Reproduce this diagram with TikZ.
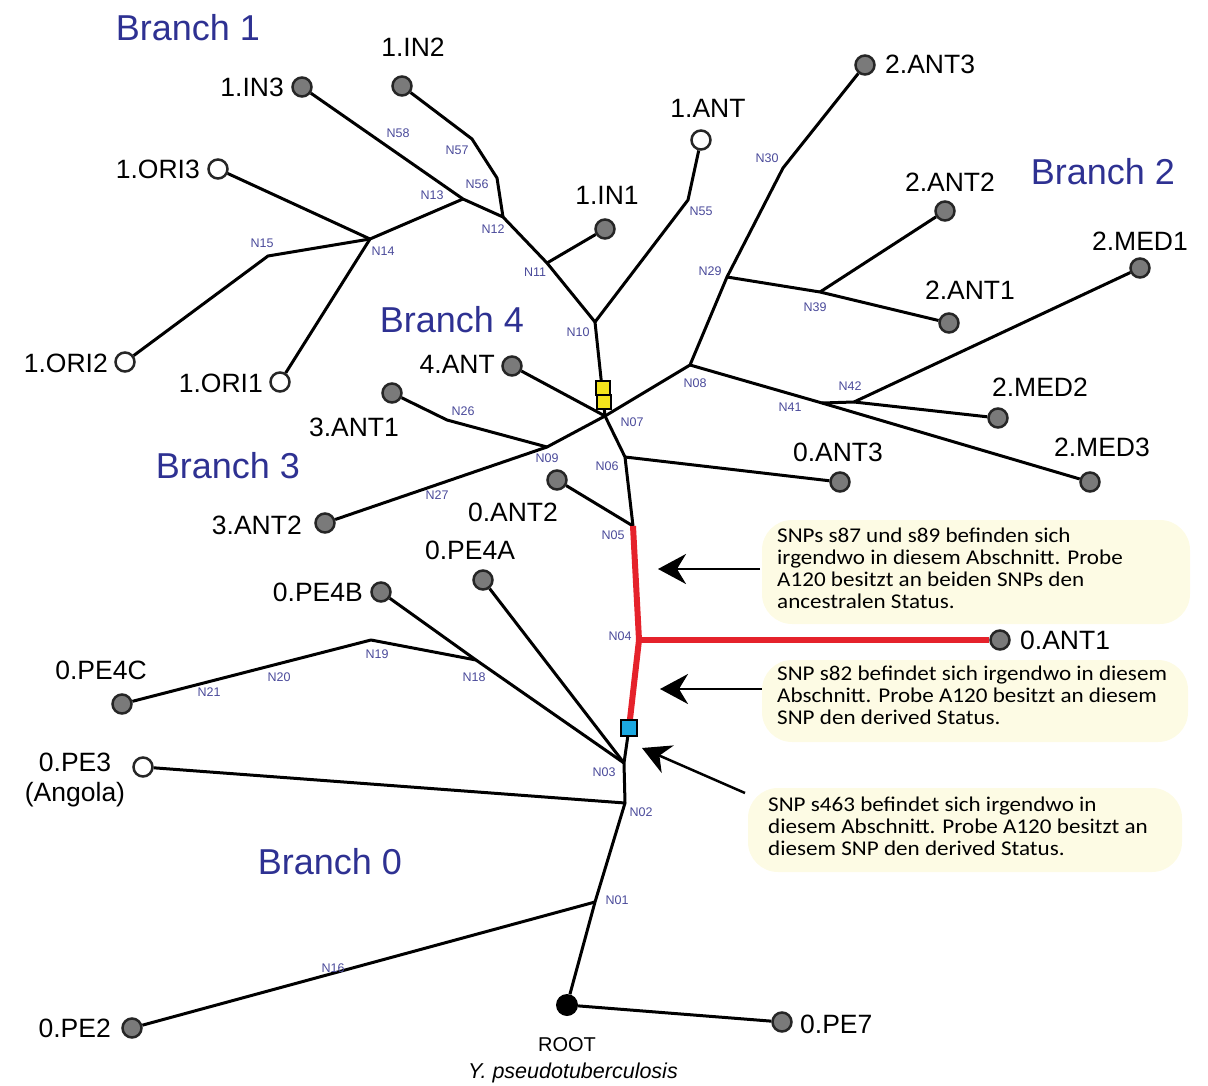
\documentclass[tikz,border=0pt]{standalone}
\usepackage{fontspec}
\setmainfont{Liberation Sans}
\newfontfamily\notefont[FakeStretch=1.1]{Carlito}
\usetikzlibrary{arrows.meta}
\definecolor{bblue}{HTML}{2E3192}
\definecolor{nblue}{HTML}{4A4A9A}
\definecolor{leafgray}{HTML}{7A7A7A}
\definecolor{snpred}{HTML}{E5222B}
\definecolor{notebg}{HTML}{FDFBE4}
\definecolor{ysq}{HTML}{F4E41C}
\definecolor{bsq}{HTML}{1CA9E1}
\tikzset{
  leaf/.style={circle, draw=black!85, line width=2.5pt, fill=leafgray, minimum size=19pt, inner sep=0pt},
  openleaf/.style={leaf, fill=white},
  lbl/.style={font=\fontsize{26.5}{30}\selectfont, inner sep=0pt},
  nl/.style={font=\fontsize{12.5}{14}\selectfont, text=nblue, inner sep=0pt},
  br/.style={font=\fontsize{36}{40}\selectfont, text=bblue, inner sep=0pt},
  edge/.style={line width=3pt, line join=round},
  redge/.style={line width=6pt, draw=snpred, line join=round},
  note/.style={font=\notefont\fontsize{21}{22}\selectfont, align=left, anchor=north west, inner sep=0pt},
  arr/.style={line width=2.5pt, -{Stealth[length=28pt, width=30pt, inset=9pt]}},
  sq/.style={rectangle, draw=black, line width=1.2pt, minimum size=14pt, inner sep=0pt}
}
\begin{document}
\begin{tikzpicture}[x=1pt,y=-1pt]
\useasboundingbox (0,0) rectangle (1208,1086);
% annotation backgrounds
\fill[notebg, rounded corners=30pt] (762,520) rectangle (1190,624);
\fill[notebg, rounded corners=30pt] (762,660) rectangle (1188,742);
\fill[notebg, rounded corners=30pt] (748,788) rectangle (1182,872);
% inner coordinates
\coordinate (N57) at (472,139);
\coordinate (N56) at (497,178);
\coordinate (N13) at (463,199);
\coordinate (N12) at (503,217);
\coordinate (N14) at (370,239);
\coordinate (N15) at (268,256);
\coordinate (N11) at (547,263);
\coordinate (N10) at (595,322);
\coordinate (N55) at (688,200);
\coordinate (N07) at (605,416);
\coordinate (N08) at (690,365);
\coordinate (N29) at (727,277);
\coordinate (N30) at (783,168);
\coordinate (N39) at (820,292);
\coordinate (N41) at (822,403);
\coordinate (N42) at (854,402);
\coordinate (N09) at (547,447);
\coordinate (N26) at (447,420);
\coordinate (N06) at (625,457);
\coordinate (N05) at (633,526);
\coordinate (N04) at (639,640);
\coordinate (N03) at (624,763);
\coordinate (N02) at (625,803);
\coordinate (N01) at (595,902);
\coordinate (N18) at (476,660);
\coordinate (N19) at (371,640);
\coordinate (BSQ) at (629,728);
% leaves
\node[leaf] (i3) at (302,87) {};
\node[leaf] (i2) at (402,86) {};
\node[openleaf] (o3) at (218,169) {};
\node[openleaf] (o2) at (125,362) {};
\node[openleaf] (o1) at (280,382) {};
\node[leaf] (i1) at (605,229) {};
\node[openleaf] (a1) at (701,140) {};
\node[leaf] (t3) at (865,65) {};
\node[leaf] (t2) at (945,211) {};
\node[leaf] (t1) at (949,323) {};
\node[leaf] (m1) at (1140,268) {};
\node[leaf] (m2) at (998,418) {};
\node[leaf] (m3) at (1090,482) {};
\node[leaf] (f4) at (512,366) {};
\node[leaf] (r1) at (392,393) {};
\node[leaf] (r2) at (325,523) {};
\node[leaf] (z3) at (840,482) {};
\node[leaf] (z2) at (557,480) {};
\node[leaf] (z1) at (1000,640) {};
\node[leaf] (pa) at (483,580) {};
\node[leaf] (pb) at (381,592) {};
\node[leaf] (pc) at (122,704) {};
\node[openleaf] (p3) at (143,767) {};
\node[leaf] (p2) at (132,1028) {};
\node[leaf] (p7) at (782,1022) {};
\node[circle, fill=black, minimum size=22pt, inner sep=0pt] (root) at (567,1005) {};
% edges
\draw[edge] (root) -- (p7);
\draw[edge] (root) -- (N01) -- (N02) -- (N03) -- (BSQ);
\draw[edge] (N01) -- (p2);
\draw[edge] (N02) -- (p3);
\draw[edge] (N03) -- (N18) -- (pb);
\draw[edge] (N18) -- (N19) -- (pc);
\draw[edge] (N03) -- (pa);
\draw[edge] (N05) -- (z2);
\draw[edge] (N05) -- (N06) -- (N07);
\draw[edge] (N06) -- (z3);
\draw[edge] (N07) -- (N10);
\draw[edge] (N10) -- (N11) -- (N12) -- (N13) -- (i3);
\draw[edge] (N12) -- (N56) -- (N57) -- (i2);
\draw[edge] (N11) -- (i1);
\draw[edge] (N10) -- (N55) -- (a1);
\draw[edge] (N13) -- (N14);
\draw[edge] (N14) -- (o3);
\draw[edge] (N14) -- (o1);
\draw[edge] (N14) -- (N15) -- (o2);
\draw[edge] (N07) -- (f4);
\draw[edge] (N07) -- (N09) -- (r2);
\draw[edge] (N09) -- (N26) -- (r1);
\draw[edge] (N07) -- (N08) -- (N29) -- (N30) -- (t3);
\draw[edge] (N29) -- (N39) -- (t1);
\draw[edge] (N39) -- (t2);
\draw[edge] (N08) -- (N41) -- (m3);
\draw[edge] (N41) -- (N42) -- (m2);
\draw[edge] (N42) -- (m1);
% red path
\draw[redge] (BSQ) -- (N04) -- (N05);
\draw[redge] (N04) -- (z1);
% squares
\node[sq, fill=ysq] (y1) at (603,388) {};
\node[sq, fill=ysq] (y2) at (604,402) {};
\node[sq, fill=bsq, minimum size=16pt] (bs) at (BSQ) {};
% leaf labels
\node[lbl, anchor=east] (Li3) at (284,87) {1.IN3};
\node[lbl] (Li2) at (413,47) {1.IN2};
\node[lbl, anchor=east] (Lo3) at (200,169) {1.ORI3};
\node[lbl, anchor=east] (Lo2) at (108,363) {1.ORI2};
\node[lbl, anchor=east] (Lo1) at (263,383) {1.ORI1};
\node[lbl] (Li1) at (607,195) {1.IN1};
\node[lbl] (La1) at (708,108) {1.ANT};
\node[lbl, anchor=west] (Lt3) at (885,64) {2.ANT3};
\node[lbl] (Lt2) at (950,182) {2.ANT2};
\node[lbl] (Lt1) at (970,290) {2.ANT1};
\node[lbl] (Lm1) at (1140,241) {2.MED1};
\node[lbl] (Lm2) at (1040,387) {2.MED2};
\node[lbl] (Lm3) at (1102,447) {2.MED3};
\node[lbl] (Lz3) at (838,452) {0.ANT3};
\node[lbl] (Lz2) at (513,512) {0.ANT2};
\node[lbl, anchor=west] (Lz1) at (1020,640) {0.ANT1};
\node[lbl, anchor=east] (Lf4) at (495,364) {4.ANT};
\node[lbl] (Lr1) at (354,427) {3.ANT1};
\node[lbl, anchor=east] (Lr2) at (302,525) {3.ANT2};
\node[lbl] (Lpa) at (470,550) {0.PE4A};
\node[lbl, anchor=east] (Lpb) at (363,592) {0.PE4B};
\node[lbl] (Lpc) at (101,670) {0.PE4C};
\node[lbl] (Lp3) at (75,762) {0.PE3};
\node[lbl] (Lp3b) at (75,795) {(Angola)};
\node[lbl, anchor=east] (Lp2) at (111,1028) {0.PE2};
\node[lbl, anchor=west] (Lp7) at (800,1024) {0.PE7};
\node[font=\fontsize{20}{22}\selectfont, inner sep=0pt, anchor=base] (Lroot) at (567,1051) {ROOT};
\node[font=\fontsize{21.5}{24}\selectfont\itshape, inner sep=0pt, anchor=base] (Lsp) at (573,1078) {Y. pseudotuberculosis};
% branch labels
\node[br] (B1) at (188,28) {Branch 1};
\node[br] (B2) at (1103,172) {Branch 2};
\node[br] (B4) at (452,320) {Branch 4};
\node[br] (B3) at (228,466) {Branch 3};
\node[br] (B0) at (330,862) {Branch 0};
% inner node labels
\node[nl] at (398,133) {N58};
\node[nl] at (457,150) {N57};
\node[nl] at (477,184) {N56};
\node[nl] at (432,195) {N13};
\node[nl] at (493,229) {N12};
\node[nl] at (383,251) {N14};
\node[nl] at (262,243) {N15};
\node[nl] at (535,272) {N11};
\node[nl] at (578,332) {N10};
\node[nl] at (701,211) {N55};
\node[nl] at (767,158) {N30};
\node[nl] at (710,271) {N29};
\node[nl] at (815,307) {N39};
\node[nl] at (695,383) {N08};
\node[nl] at (850,386) {N42};
\node[nl] at (790,407) {N41};
\node[nl] at (632,422) {N07};
\node[nl] at (463,411) {N26};
\node[nl] at (547,458) {N09};
\node[nl] at (437,495) {N27};
\node[nl] at (607,466) {N06};
\node[nl] at (613,535) {N05};
\node[nl] at (620,636) {N04};
\node[nl] at (604,772) {N03};
\node[nl] at (641,812) {N02};
\node[nl] at (617,900) {N01};
\node[nl] at (333,968) {N16};
\node[nl] at (209,692) {N21};
\node[nl] at (279,677) {N20};
\node[nl] at (377,654) {N19};
\node[nl] at (474,677) {N18};
% notes
\node[note] (T1) at (777,528) {SNPs s87 und s89 befinden sich\\irgendwo in diesem Abschnitt. Probe\\A120 besitzt an beiden SNPs den\\ancestralen Status.};
\node[note] (T2) at (777,666) {SNP s82 befindet sich irgendwo in diesem\\Abschnitt. Probe A120 besitzt an diesem\\SNP den derived Status.};
\node[note] (T3) at (768,797) {SNP s463 befindet sich irgendwo in\\diesem Abschnitt. Probe A120 besitzt an\\diesem SNP den derived Status.};
% arrows
\coordinate (A1s) at (760,569);
\coordinate (A1e) at (658,569);
\coordinate (A2s) at (762,689);
\coordinate (A2e) at (660,689);
\coordinate (A3s) at (745,793);
\coordinate (A3e) at (642,748);
\draw[arr] (A1s) -- (A1e);
\draw[arr] (A2s) -- (A2e);
\draw[arr] (A3s) -- (A3e);
\end{tikzpicture}
\end{document}
